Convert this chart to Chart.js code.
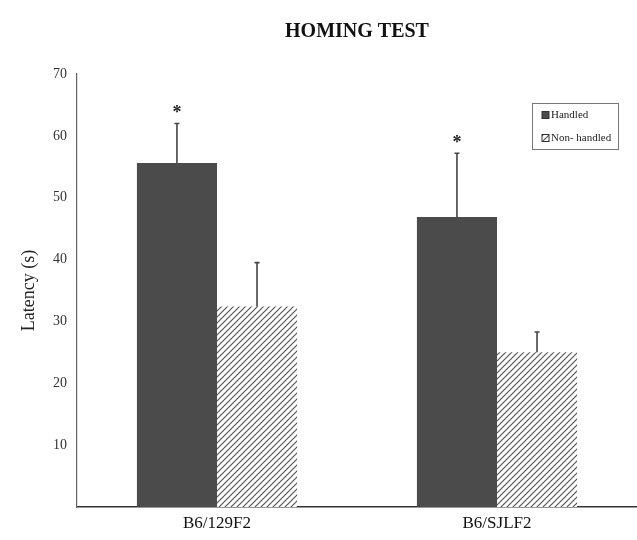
<!DOCTYPE html>
<html>
<head>
<meta charset="utf-8">
<script src="https://cdn.jsdelivr.net/npm/chart.js@4"></script>
<style>
  html, body { margin: 0; padding: 0; background: #fff; }
  #wrap { width: 637px; height: 540px; }
</style>
</head>
<body>
<div id="wrap"><canvas id="myChart" width="637" height="540"></canvas></div>
<script>
// data
let strains = ['B6/129F2', 'B6/SJLF2'];
let handled = [55.6, 46.9];
let handledErr = [62.0, 57.2];
let nonHandled = [32.4, 25.0];
let nonHandledErr = [39.5, 28.3];
let signif = [true, true];   // asterisk above Handled bars

let serif = '"Liberation Serif", "Times New Roman", serif';
let darkGray = '#4b4b4b';

// hatch pattern for non-handled bars
function makeHatch() {
    let c = document.createElement('canvas');
    c.width = 6; c.height = 6;
    let g = c.getContext('2d');
    g.fillStyle = '#fff';
    g.fillRect(0, 0, 6, 6);
    g.strokeStyle = '#555';
    g.lineWidth = 1.2;
    g.beginPath();
    g.moveTo(-1, 7); g.lineTo(7, -1);
    g.moveTo(-4, 4); g.lineTo(4, -4);
    g.moveTo(2, 10); g.lineTo(10, 2);
    g.stroke();
    return g.createPattern(c, 'repeat');
}
let ctx = document.querySelector('#myChart').getContext('2d');
let hatch = makeHatch();

// error bars + asterisks
let extras = {
    id: 'extras',
    afterDatasetsDraw(chart) {
        let c = chart.ctx;
        let y = chart.scales.y;
        let errs = [handledErr, nonHandledErr];
        c.save();
        c.strokeStyle = '#444';
        c.lineWidth = 1.6;
        chart.data.datasets.forEach((ds, i) => {
            let meta = chart.getDatasetMeta(i);
            meta.data.forEach((bar, j) => {
                let top = y.getPixelForValue(errs[i][j]);
                c.beginPath();
                c.moveTo(bar.x, bar.y);
                c.lineTo(bar.x, top);
                c.moveTo(bar.x - 2.5, top);
                c.lineTo(bar.x + 2.5, top);
                c.stroke();
                if (i === 0 && signif[j]) {
                    c.fillStyle = '#222';
                    c.font = 'bold 18px ' + serif;
                    c.textAlign = 'center';
                    c.textBaseline = 'bottom';
                    c.fillText('*', bar.x, top - 1);
                }
            });
        });
        c.restore();
    }
};

// boxed legend in the upper right of the plot
let boxLegend = {
    id: 'boxLegend',
    afterDraw(chart) {
        let c = chart.ctx;
        let x0 = 532, y0 = 103, w = 86, h = 46;
        c.save();
        c.strokeStyle = '#777';
        c.lineWidth = 1;
        c.strokeRect(x0 + 0.5, y0 + 0.5, w, h);
        c.font = '11px ' + serif;
        c.textBaseline = 'middle';
        let fills = [darkGray, hatch];
        chart.data.datasets.forEach((ds, i) => {
            let ly = y0 + 12 + i * 23;
            c.fillStyle = fills[i];
            c.fillRect(x0 + 10, ly - 3.5, 7, 7);
            c.strokeStyle = '#333';
            c.strokeRect(x0 + 10, ly - 3.5, 7, 7);
            c.fillStyle = '#222';
            c.fillText(ds.label, x0 + 19, ly + 0.5);
        });
        c.restore();
    }
};

let myChart = new Chart(ctx, {
    type: 'bar',
    data: {
        labels: strains,
        datasets: [{
            label: 'Handled',
            data: handled,
            backgroundColor: darkGray,
            borderWidth: 0,
            barPercentage: 1.0,
            categoryPercentage: 0.572
        }, {
            label: 'Non- handled',
            data: nonHandled,
            backgroundColor: hatch,
            borderWidth: 0,
            barPercentage: 1.0,
            categoryPercentage: 0.572
        }]
    },
    options: {
        responsive: false,
        animation: false,
        layout: { padding: { left: 0, right: 0, top: 0, bottom: 0 } },
        plugins: {
            legend: { display: false },
            tooltip: { enabled: false },
            title: {
                display: true,
                text: 'HOMING TEST',
                fullSize: false,
                color: '#111',
                font: { family: serif, size: 20, weight: 'bold' },
                padding: { top: 20, bottom: 30 }
            }
        },
        scales: {
            x: {
                grid: { display: false, drawTicks: false },
                border: { color: '#333', width: 1.5 },
                ticks: { color: '#111', font: { family: serif, size: 17 }, padding: 6 },
                afterFit(scale) { scale.height = 33; }
            },
            y: {
                min: 0,
                max: 70,
                grid: { display: false, drawTicks: true, tickLength: 5, color: '#666' },
                border: { color: '#666', width: 1.2 },
                ticks: {
                    stepSize: 10,
                    color: '#333',
                    font: { family: serif, size: 14 },
                    padding: 5,
                    callback: (v) => v === 0 ? '' : v
                },
                title: {
                    display: true,
                    text: 'Latency (s)',
                    color: '#222',
                    font: { family: serif, size: 18 },
                    padding: { top: 18, bottom: 4 }
                },
                afterFit(scale) { scale.width = 77; }
            }
        }
    },
    plugins: [extras, boxLegend]
});
</script>
</body>
</html>
